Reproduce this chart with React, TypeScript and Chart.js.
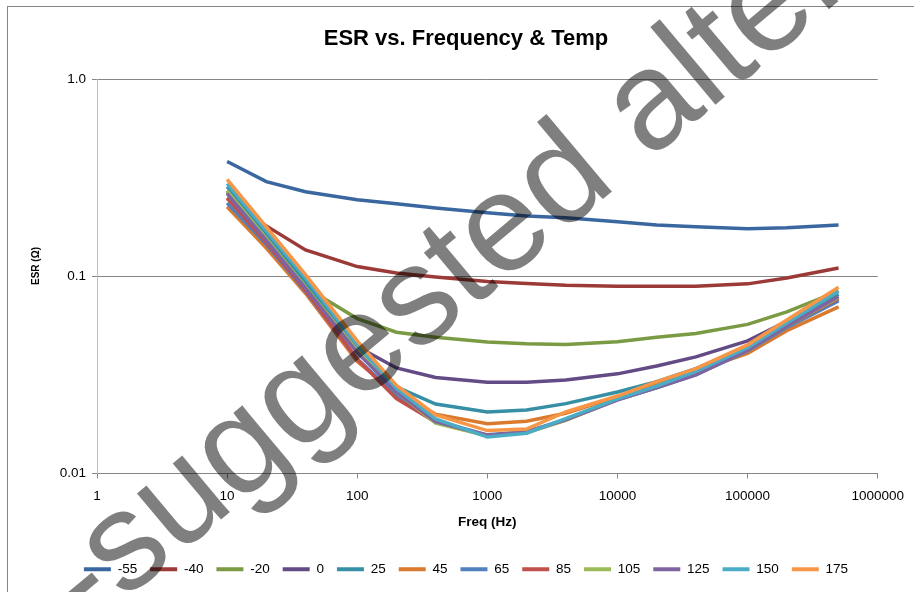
import React, { useEffect, useRef } from "react";
import { Chart, registerables } from "chart.js";

Chart.register(...registerables);

// ---------- data ----------
const frequencies = [10, 20, 40, 100, 200, 400, 1000, 2000, 4000, 10000, 20000, 40000, 100000, 200000, 500000];

const seriesNames = ["-55", "-40", "-20", "0", "25", "45", "65", "85", "105", "125", "150", "175"];

const esrM55 = [0.382, 0.302, 0.268, 0.244, 0.233, 0.222, 0.21, 0.202, 0.198, 0.189, 0.182, 0.178, 0.174, 0.176, 0.182];
const esrM40 = [0.248, 0.18, 0.136, 0.112, 0.104, 0.099, 0.094, 0.092, 0.09, 0.089, 0.089, 0.089, 0.0915, 0.098, 0.11];
const esrM20 = [0.272, 0.157, 0.088, 0.061, 0.052, 0.049, 0.0464, 0.0455, 0.0451, 0.0466, 0.049, 0.0512, 0.057, 0.066, 0.084];
const esr0 = [0.268, 0.153, 0.087, 0.044, 0.0343, 0.0307, 0.029, 0.029, 0.0298, 0.032, 0.0351, 0.039, 0.047, 0.059, 0.077];
const esr25 = [0.285, 0.165, 0.094, 0.042, 0.0275, 0.0225, 0.0205, 0.021, 0.0226, 0.0259, 0.0292, 0.034, 0.044, 0.058, 0.081];
const esr45 = [0.225, 0.139, 0.082, 0.037, 0.0255, 0.02, 0.0179, 0.0184, 0.0202, 0.0245, 0.028, 0.033, 0.0406, 0.053, 0.07];
const esr65 = [0.235, 0.145, 0.084, 0.038, 0.025, 0.0185, 0.0157, 0.0163, 0.0188, 0.0236, 0.0272, 0.0316, 0.0418, 0.055, 0.075];
const esr85 = [0.25, 0.148, 0.085, 0.038, 0.024, 0.0182, 0.0156, 0.0162, 0.0187, 0.0238, 0.0275, 0.032, 0.0425, 0.056, 0.077];
const esr105 = [0.27, 0.155, 0.088, 0.042, 0.026, 0.018, 0.0155, 0.0161, 0.0186, 0.0237, 0.0274, 0.0318, 0.0422, 0.056, 0.078];
const esr125 = [0.262, 0.152, 0.087, 0.041, 0.026, 0.0183, 0.0156, 0.0162, 0.0187, 0.0236, 0.0273, 0.0316, 0.042, 0.056, 0.079];
const esr150 = [0.295, 0.17, 0.098, 0.045, 0.027, 0.0189, 0.0153, 0.016, 0.019, 0.0239, 0.0277, 0.0329, 0.0434, 0.058, 0.084];
const esr175 = [0.31, 0.178, 0.102, 0.047, 0.028, 0.0198, 0.0165, 0.0168, 0.0205, 0.0247, 0.0292, 0.034, 0.0449, 0.06, 0.088];

const seriesValues = [esrM55, esrM40, esrM20, esr0, esr25, esr45, esr65, esr85, esr105, esr125, esr150, esr175];

const seriesColors = [
  "#3B67A0", "#9B3A37", "#7A9A43", "#634B86", "#378FA6", "#D97A2E",
  "#4F81BD", "#C0504D", "#9BBB59", "#8064A2", "#4BACC6", "#F79646",
];

const xTickValues = [1, 10, 100, 1000, 10000, 100000, 1000000];
const xTickLabels = ["1", "10", "100", "1000", "10000", "100000", "1000000"];
const yTickValues = [0.01, 0.1, 1];
const yTickLabels = ["0.01", "0.1", "1.0"];

const chartTitle = "ESR vs. Frequency & Temp";
const xAxisTitle = "Freq (Hz)";
const yAxisTitle = "ESR (Ω)";
const watermarkText = "-suggested alternate";

const FONT = "'Liberation Sans', Arial, sans-serif";

const decorPlugin = {
  id: "decor",
  beforeDraw(chart: any) {
    const ctx = chart.ctx;
    ctx.save();
    ctx.fillStyle = "#ffffff";
    ctx.fillRect(0, 0, chart.width, chart.height);
    ctx.strokeStyle = "#868686";
    ctx.lineWidth = 1;
    ctx.strokeRect(7.5, 6.5, chart.width + 10, chart.height + 10);
    ctx.restore();
  },
  afterDraw(chart: any) {
    const ctx = chart.ctx;
    // y axis title
    ctx.save();
    ctx.translate(36, 266);
    ctx.rotate(-Math.PI / 2);
    ctx.font = `bold 10px ${FONT}`;
    ctx.fillStyle = "#000";
    ctx.textAlign = "center";
    ctx.textBaseline = "middle";
    ctx.fillText(yAxisTitle, 0, 0);
    ctx.restore();
    // watermark
    ctx.save();
    ctx.translate(124, 601);
    ctx.rotate((-40 * Math.PI) / 180);
    ctx.font = `140px ${FONT}`;
    ctx.fillStyle = "rgba(0,0,0,0.5)";
    ctx.textAlign = "left";
    ctx.textBaseline = "alphabetic";
    const lead = ctx.measureText("-").width;
    ctx.fillText(watermarkText, -lead, 0);
    ctx.restore();
  },
};

export default function App() {
  const canvasRef = useRef<HTMLCanvasElement | null>(null);

  useEffect(() => {
    if (!canvasRef.current) return;
    const datasets = seriesNames.map((name, i) => ({
      label: name,
      data: frequencies.map((f, j) => ({ x: f, y: seriesValues[i][j] })),
      borderColor: seriesColors[i],
      backgroundColor: seriesColors[i],
      borderWidth: 3.5,
      pointRadius: 0,
      tension: 0,
      fill: false,
      order: seriesNames.length - 1 - i,
    }));

    const chart = new Chart(canvasRef.current, {
      type: "line",
      data: { datasets },
      plugins: [decorPlugin],
      options: {
        responsive: false,
        animation: false,
        devicePixelRatio: 1,
        layout: { padding: { left: 54, right: 36, top: 0, bottom: 6 } },
        plugins: {
          tooltip: { enabled: false },
          title: {
            display: true,
            text: chartTitle,
            color: "#000",
            font: { family: FONT, size: 22, weight: "bold" },
            padding: { top: 26, bottom: 26.6 },
          },
          legend: {
            position: "bottom",
            labels: {
              color: "#000",
              font: { family: FONT, size: 13.5 },
              boxWidth: 27,
              boxHeight: 4,
              padding: 13,
              generateLabels: (c: any) =>
                c.data.datasets.map((ds: any, i: number) => ({
                  text: ds.label,
                  fillStyle: ds.borderColor,
                  strokeStyle: ds.borderColor,
                  lineWidth: 0,
                  hidden: false,
                  datasetIndex: i,
                  fontColor: "#000",
                })),
            },
          },
        },
        scales: {
          x: {
            type: "logarithmic",
            min: 1,
            max: 1000000,
            afterBuildTicks: (s: any) => {
              s.ticks = xTickValues.map((v) => ({ value: v }));
            },
            afterFit: (s: any) => {
              s.height = 76;
            },
            ticks: {
              autoSkip: false,
              maxRotation: 0,
              padding: 10,
              color: "#000",
              font: { family: FONT, size: 13.5 },
              callback: (_v: any, i: number) => xTickLabels[i],
            },
            grid: { drawOnChartArea: false, drawTicks: true, tickLength: 5, color: "#868686" },
            border: { color: "#868686" },
            title: {
              display: true,
              text: xAxisTitle,
              color: "#000",
              font: { family: FONT, size: 13.5, weight: "bold" },
              padding: { top: 4, bottom: 19 },
            },
          },
          y: {
            type: "logarithmic",
            min: 0.01,
            max: 1,
            afterBuildTicks: (s: any) => {
              s.ticks = yTickValues.map((v) => ({ value: v }));
            },
            afterFit: (s: any) => {
              s.width = 43;
            },
            ticks: {
              padding: 6,
              color: "#000",
              font: { family: FONT, size: 13.5 },
              callback: (_v: any, i: number) => yTickLabels[i],
            },
            grid: { drawOnChartArea: true, drawTicks: true, tickLength: 5, color: "#868686" },
            border: { color: "#BFBFBF" },
          },
        },
      } as any,
    });
    return () => chart.destroy();
  }, []);

  return (
    <div style={{ position: "absolute", left: 0, top: 0, width: 914, height: 592, overflow: "hidden", background: "#fff" }}>
      <canvas ref={canvasRef} width={914} height={592} style={{ display: "block", width: 914, height: 592 }} />
    </div>
  );
}
